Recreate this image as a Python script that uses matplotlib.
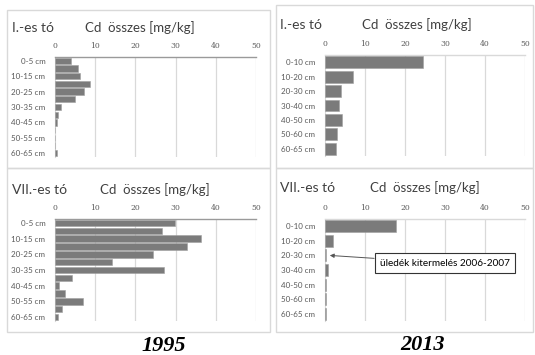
import matplotlib
matplotlib.use('Agg')
from matplotlib import pyplot as plt
from matplotlib.patches import Rectangle

# depth categories
depth_1995 = ['0-5 cm', '5-10 cm', '10-15 cm', '15-20 cm', '20-25 cm', '25-30 cm',
              '30-35 cm', '35-40 cm', '40-45 cm', '45-50 cm', '50-55 cm', '55-60 cm',
              '60-65 cm']
depth_2013 = ['0-10 cm', '10-20 cm', '20-30 cm', '30-40 cm', '40-50 cm', '50-60 cm',
              '60-65 cm']

# Cd total [mg/kg]
cd_I_1995 = [4.0, 5.8, 6.1, 8.8, 7.2, 5.0, 1.5, 0.7, 0.4, 0, 0, 0, 0.4]
cd_VII_1995 = [29.9, 26.6, 36.2, 32.8, 24.5, 14.1, 27.0, 4.2, 0.9, 2.6, 6.9, 1.7, 0.7]
cd_I_2013 = [24.5, 7.1, 4.0, 3.4, 4.3, 3.1, 2.8]
cd_VII_2013 = [17.8, 2.1, 0.35, 0.7, 0.15, 0.35, 0.35]

xticks = [0, 10, 20, 30, 40, 50]

plt.rcParams['font.family'] = ['Lato', 'DejaVu Sans']

W, H = 535, 355
fig = plt.figure(figsize=(W / 100, H / 100), dpi=100)
fig.patch.set_facecolor('white')

bar_col = '#7b7b7b'
grid_col = '#d9d9d9'
txt_col = '#595959'


def px_axes(x0, y0, x1, y1):
    return fig.add_axes([x0 / W, 1 - y1 / H, (x1 - x0) / W, (y1 - y0) / H])


def frame(x0, y0, x1, y1):
    fig.patches.append(Rectangle((x0 / W, 1 - y1 / H), (x1 - x0) / W, (y1 - y0) / H,
                                 transform=fig.transFigure, fill=False,
                                 edgecolor=grid_col, linewidth=1.0))


def panel(box, lake, title_x, cd_x, title_y, cats, vals, show_every, topline):
    ax = px_axes(*box)
    n = len(cats)
    ax.barh(range(n), vals, height=0.82, color=bar_col, edgecolor='#a0a0a0', linewidth=0.4,
            zorder=3)
    ax.set_xlim(0, 50)
    ax.set_ylim(n - 0.5, -0.5)
    ax.set_xticks(xticks)
    ax.set_xticklabels([str(t) for t in xticks], fontsize=5.5, color=txt_col,
                       family='DejaVu Serif')
    ax.xaxis.tick_top()
    ax.tick_params(axis='x', length=0, pad=5)
    idx = list(range(0, n, show_every))
    ax.set_yticks(idx)
    ax.set_yticklabels([cats[i] for i in idx], fontsize=5.8, color=txt_col)
    ax.tick_params(axis='y', length=0, pad=7)
    for t in xticks[1:]:
        ax.axvline(t, color=grid_col, linewidth=0.9, zorder=1)
    for s in ['right', 'bottom']:
        ax.spines[s].set_visible(False)
    ax.spines['left'].set_color(grid_col)
    ax.spines['top'].set_color(topline)
    ax.spines['top'].set_linewidth(1.0)
    fig.text(title_x / W, 1 - title_y / H, lake, fontsize=10, color='#404040',
             va='center', ha='left')
    fig.text(cd_x / W, 1 - title_y / H, 'Cd  összes [mg/kg]', fontsize=9.5, color='#404040',
             va='center', ha='left')
    return ax


frame(7, 10, 270, 168)
frame(276, 5, 533, 168)
frame(7, 168, 270, 332)
frame(276, 168, 533, 332)

panel((55, 57, 256, 157), 'I.-es tó', 12, 85, 28, depth_1995, cd_I_1995, 2, '#9a9a9a')
panel((325, 55, 525, 156), 'I.-es tó', 280, 362, 25, depth_2013, cd_I_2013, 1, grid_col)
panel((55, 219, 256, 321), 'VII.-es tó', 12, 100, 190, depth_1995, cd_VII_1995, 2, '#9a9a9a')
ax4 = panel((325, 219, 525, 321), 'VII.-es tó', 280, 370, 188, depth_2013, cd_VII_2013, 1,
            grid_col)

ax4.annotate('üledék kitermelés 2006-2007', xy=(1.2, 2.0), xycoords='data',
             xytext=(380 / W, 1 - 263 / H), textcoords='figure fraction',
             fontsize=7.2, va='center', ha='left',
             bbox=dict(boxstyle='square,pad=0.55', fc='white', ec='#333333', lw=0.8),
             arrowprops=dict(arrowstyle='-|>', color='#555555', lw=0.7,
                             mutation_scale=6, shrinkA=0, shrinkB=0))

fig.text(164 / W, 1 - 346 / H, '1995', fontsize=16, fontweight='bold', fontstyle='italic',
         family='Liberation Serif', ha='center', va='center')
fig.text(423 / W, 1 - 345 / H, '2013', fontsize=16, fontweight='bold', fontstyle='italic',
         family='Liberation Serif', ha='center', va='center')

fig.savefig('out.png', dpi=100)
